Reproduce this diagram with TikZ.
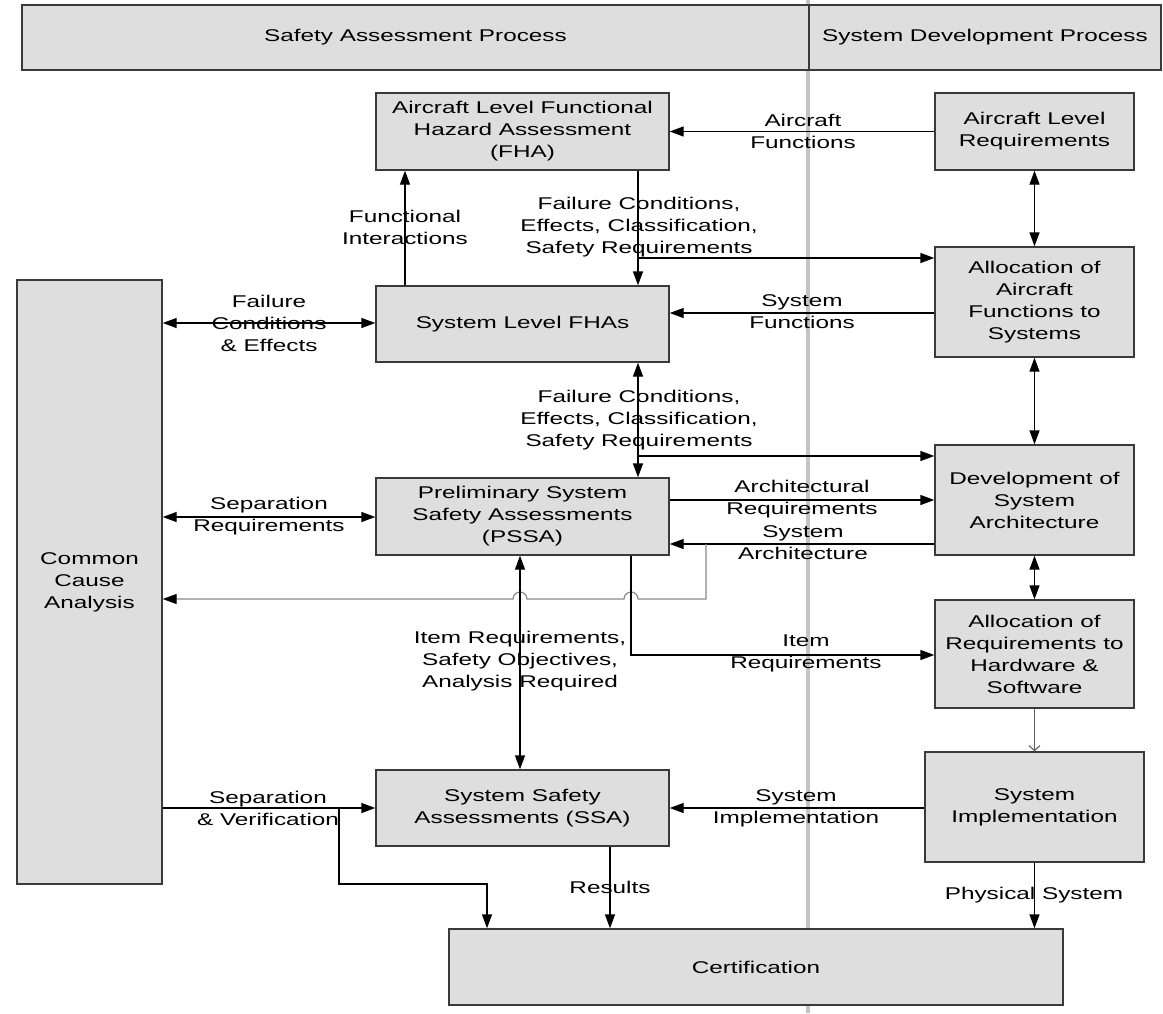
\documentclass[tikz,border=0pt]{standalone}
\usepackage{fontspec}
\setmainfont{Liberation Sans}[FakeStretch=1.43]
\usetikzlibrary{arrows.meta}
\definecolor{boxfill}{HTML}{DEDEDE}
\definecolor{boxline}{HTML}{3A3A3A}
\definecolor{lanegray}{HTML}{C4C4C4}
\definecolor{thingray}{HTML}{888888}

\begin{document}
\begin{tikzpicture}[x=1pt,y=-1pt,
  every node/.style={font=\fontsize{17}{22}\selectfont, align=center, inner sep=0pt},
  box/.style={draw=boxline, fill=boxfill, line width=1.4pt},
  tip/.style={Triangle[length=14pt,width=10pt]},
  arr/.style={line width=1.4pt, -{Triangle[length=14pt,width=10pt]}},
  darr/.style={line width=1.4pt, {Triangle[length=14pt,width=10pt]}-{Triangle[length=14pt,width=10pt]}},
  grayline/.style={thingray, line width=1.2pt}]

\useasboundingbox (0,0) rectangle (1163,1013);

% lane divider between the two processes
\draw[lanegray, line width=4pt] (808,0) -- (808,1013);

% header bar
\node[box, line width=1.2pt, minimum width=787pt, minimum height=65pt] (hsa) at (415.5,37.5) {Safety Assessment Process};
\node[box, line width=1.2pt, minimum width=352pt, minimum height=65pt] (hsd) at (985,37.5) {System Development Process};

% safety assessment boxes
\node[box, minimum width=293pt, minimum height=77pt] (fha) at (522.5,131.5) {Aircraft Level Functional\\Hazard Assessment\\(FHA)};
\node[box, minimum width=293pt, minimum height=76pt] (sfha) at (522.5,324) {System Level FHAs};
\node[box, minimum width=293pt, minimum height=77pt] (pssa) at (522.5,516.5) {Preliminary System\\Safety Assessments\\(PSSA)};
\node[box, minimum width=293pt, minimum height=76pt] (ssa) at (522.5,808) {System Safety\\Assessments (SSA)};
\node[box, minimum width=145pt, minimum height=604pt] (cca) at (89.5,582) {Common\\Cause\\Analysis};
\node[box, minimum width=614pt, minimum height=76pt] (cert) at (756,967) {Certification};

% system development boxes
\node[box, minimum width=199pt, minimum height=77pt] (alr) at (1034.5,131.5) {Aircraft Level\\Requirements};
\node[box, minimum width=199pt, minimum height=110pt] (aafs) at (1034.5,302) {Allocation of\\Aircraft\\Functions to\\Systems};
\node[box, minimum width=199pt, minimum height=110pt] (dsa) at (1034.5,500) {Development of\\System\\Architecture};
\node[box, minimum width=199pt, minimum height=108pt] (arhs) at (1034.5,654) {Allocation of\\Requirements to\\Hardware \&\\Software};
\node[box, minimum width=219pt, minimum height=110pt] (simp) at (1034.5,807) {System\\Implementation};

% routing columns and junctions
\coordinate (xa) at (638,0);
\coordinate (xb) at (405,0);
\coordinate (xc) at (520,0);
\coordinate (xd) at (631,0);
\coordinate (xe) at (610,0);
\coordinate (j1) at (638,258);
\coordinate (j2) at (638,456);
\coordinate (g0) at (706,544);
\coordinate (g1) at (706,599);
\coordinate (v0) at (339,808);

% aircraft level
\draw[arr] (alr.west) -- (fha.east);
\node at (803,131) {Aircraft\\Functions};
\draw[darr] (alr.south) -- (aafs.north);

% FHA down to system FHAs, with branch to function allocation
\draw[arr] (fha.south -| xa) -- (sfha.north -| xa);
\draw[arr] (j1) -- (j1 -| aafs.west);
\node at (639,227) {Failure Conditions,\\Effects, Classification,\\Safety Requirements};
\draw[arr] (sfha.north -| xb) -- (fha.south -| xb);
\node at (405,227) {Functional\\Interactions};

% system functions
\draw[arr] (aafs.west |- 0,313) -- (sfha.east |- 0,313);
\node at (802,312) {System\\Functions};
\draw[darr] (cca.east |- 0,323) -- (sfha.west |- 0,323);
\node at (269,323) {Failure\\Conditions\\\& Effects};
\draw[darr] (aafs.south) -- (dsa.north);

% system FHAs to PSSA, with branch to architecture
\draw[darr] (sfha.south -| xa) -- (pssa.north -| xa);
\draw[arr] (j2) -- (j2 -| dsa.west);
\node at (639,420) {Failure Conditions,\\Effects, Classification,\\Safety Requirements};

% PSSA exchanges
\draw[darr] (cca.east |- 0,517) -- (pssa.west |- 0,517);
\node at (269,516) {Separation\\Requirements};
\draw[arr] (pssa.east |- 0,500) -- (dsa.west |- 0,500);
\node at (802,499) {Architectural\\Requirements};
\draw[arr] (dsa.west |- g0) -- (pssa.east |- g0);
\node at (803,543) {System\\Architecture};
\draw[darr] (dsa.south) -- (arhs.north);

% architecture fed back to common cause analysis
\draw[grayline, -{Triangle[length=14pt,width=10pt,color=black]}] (g0) -- (g1)
  -- ({631+7},599) arc[start angle=0, end angle=-180, radius=7]
  -- ({520+7},599) arc[start angle=0, end angle=-180, radius=7]
  -- (g1 -| cca.east);

% PSSA to SSA and item requirements
\draw[darr] (pssa.south -| xc) -- (ssa.north -| xc);
\node at (520,661) {Item Requirements,\\Safety Objectives,\\Analysis Required};
\draw[arr] (pssa.south -| xd) |- (arhs.west |- 0,655);
\node at (806,653) {Item\\Requirements};
\draw[thingray!70!black, line width=1.1pt, -{Straight Barb[length=5pt,width=11pt]}] (arhs.south) -- (simp.north);

% implementation and SSA
\draw[arr] (simp.west |- ssa) -- (ssa.east);
\node at (796,808) {System\\Implementation};
\draw[arr] (cca.east |- ssa) -- (ssa.west);
\node at (268,808) {Separation\\\& Verification};
\draw[arr] (v0) -- (339,884) -- (487,884) -- (cert.north -| 487,0);

% certification inputs
\draw[arr] (ssa.south -| xe) -- (cert.north -| xe);
\node at (610,887) {Results};
\draw[arr] (simp.south) -- (cert.north -| simp.south);
\node at (1034,895) {Physical System};

\end{tikzpicture}
\end{document}
